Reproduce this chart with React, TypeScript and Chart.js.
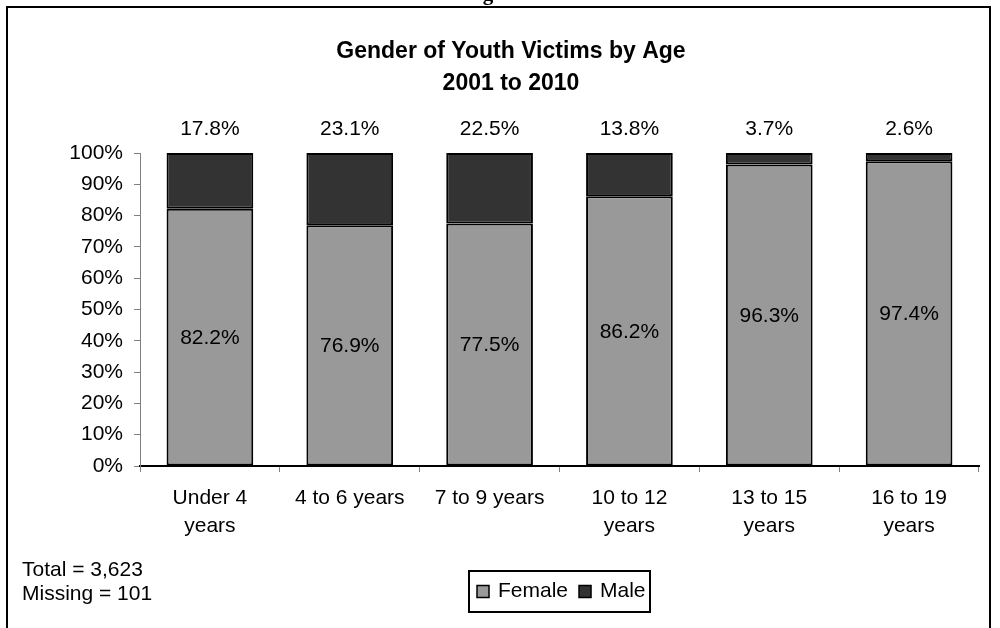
import React, { useEffect, useRef } from 'react';
import { Chart, registerables } from 'chart.js';

Chart.register(...registerables);

const categories: string[][] = [
  ['Under 4', 'years'],
  ['4 to 6 years'],
  ['7 to 9 years'],
  ['10 to 12', 'years'],
  ['13 to 15', 'years'],
  ['16 to 19', 'years'],
];
const female = [82.2, 76.9, 77.5, 86.2, 96.3, 97.4];
const male = [17.8, 23.1, 22.5, 13.8, 3.7, 2.6];
const seriesNames = ['Female', 'Male'];
const seriesColors = ['#999999', '#333333'];
const titleLines = ['Gender of Youth Victims by Age', '2001 to 2010'];
const notes = ['Total = 3,623', 'Missing = 101'];

const FONT = "'Liberation Sans', Arial, sans-serif";

const decorPlugin = {
  id: 'decor',
  beforeDraw(chart: any) {
    const ctx = chart.ctx;
    ctx.save();
    ctx.fillStyle = '#ffffff';
    ctx.fillRect(0, 0, chart.width, chart.height);
    // cut-off heading descender above the frame
    ctx.fillStyle = '#000';
    ctx.font = "bold 21px 'Liberation Serif', 'Times New Roman', serif";
    ctx.textAlign = 'center';
    ctx.textBaseline = 'alphabetic';
    ctx.fillText('g', 488, 0);
    // frame
    ctx.strokeStyle = '#000';
    ctx.lineWidth = 2;
    ctx.beginPath();
    ctx.moveTo(7, 640);
    ctx.lineTo(7, 7);
    ctx.lineTo(990, 7);
    ctx.lineTo(990, 640);
    ctx.stroke();
    ctx.restore();
  },
  afterDraw(chart: any) {
    const ctx = chart.ctx;
    const area = chart.chartArea;
    ctx.save();
    ctx.fillStyle = '#000';
    // title
    ctx.font = `bold 23px ${FONT}`;
    ctx.textAlign = 'center';
    ctx.textBaseline = 'alphabetic';
    ctx.fillText(titleLines[0], 511, 58);
    ctx.fillText(titleLines[1], 511, 90);
    // data labels
    ctx.font = `21px ${FONT}`;
    ctx.textBaseline = 'middle';
    const fMeta = chart.getDatasetMeta(0);
    const mMeta = chart.getDatasetMeta(1);
    fMeta.data.forEach((el: any, i: number) => {
      const y = (el.y + el.base) / 2;
      ctx.fillText(female[i].toFixed(1) + '%', el.x, y + 1);
    });
    mMeta.data.forEach((el: any, i: number) => {
      ctx.fillText(male[i].toFixed(1) + '%', el.x, el.y - 24);
    });
    // notes
    ctx.textAlign = 'left';
    ctx.textBaseline = 'alphabetic';
    ctx.fillText(notes[0], 22, 576);
    ctx.fillText(notes[1], 22, 600);
    // legend
    const cx = (area.left + area.right) / 2;
    const boxW = 181;
    const lx = cx - boxW / 2;
    const ly = 571;
    ctx.strokeStyle = '#000';
    ctx.lineWidth = 2;
    ctx.strokeRect(lx, ly, boxW, 41);
    let x = lx + 8;
    const my = ly + 20.5;
    seriesNames.forEach((name, i) => {
      ctx.fillStyle = seriesColors[i];
      ctx.fillRect(x, my - 6, 12, 12);
      ctx.lineWidth = 1.5;
      ctx.strokeStyle = '#000';
      ctx.strokeRect(x, my - 6, 12, 12);
      ctx.fillStyle = '#000';
      ctx.textBaseline = 'middle';
      ctx.fillText(name, x + 21, my);
      x += 21 + ctx.measureText(name).width + 11;
    });
    ctx.restore();
  },
};

export default function App() {
  const ref = useRef<HTMLCanvasElement | null>(null);
  useEffect(() => {
    if (!ref.current) return;
    const chart = new Chart(ref.current, {
      type: 'bar',
      data: {
        labels: categories as any,
        datasets: [
          {
            label: seriesNames[0],
            data: female,
            backgroundColor: seriesColors[0],
            borderColor: '#000',
            borderWidth: 2,
            borderSkipped: false,
            categoryPercentage: 1,
            barPercentage: 0.62,
          },
          {
            label: seriesNames[1],
            data: male,
            backgroundColor: seriesColors[1],
            borderColor: '#000',
            borderWidth: 2,
            borderSkipped: false,
            categoryPercentage: 1,
            barPercentage: 0.62,
          },
        ],
      },
      options: {
        responsive: false,
        animation: false,
        layout: { padding: { left: 0, right: 21, top: 153, bottom: 0 } },
        plugins: {
          legend: { display: false },
          title: { display: false },
          tooltip: { enabled: false },
        },
        scales: {
          x: {
            stacked: true,
            grid: {
              offset: true,
              drawOnChartArea: false,
              drawTicks: true,
              tickLength: 6,
              color: '#808080',
            },
            border: { display: true, color: '#000', width: 2 },
            ticks: {
              color: '#000',
              font: { family: FONT, size: 21, lineHeight: 1.3 },
              padding: 13,
              maxRotation: 0,
              autoSkip: false,
            },
            afterFit: (s: any) => {
              s.height = 162;
            },
          },
          y: {
            stacked: true,
            min: 0,
            max: 100,
            grid: {
              drawOnChartArea: false,
              drawTicks: true,
              tickLength: 6,
              color: '#808080',
            },
            border: { display: true, color: '#808080', width: 1 },
            ticks: {
              stepSize: 10,
              color: '#000',
              font: { family: FONT, size: 21 },
              padding: 11,
              callback: (v: any) => v + '%',
            },
            afterFit: (s: any) => {
              s.width = 140;
            },
          },
        },
      },
      plugins: [decorPlugin],
    });
    return () => chart.destroy();
  }, []);
  return (
    <div style={{ position: 'absolute', left: 0, top: 0, width: 1000, height: 628 }}>
      <canvas ref={ref} width={1000} height={628} />
    </div>
  );
}
